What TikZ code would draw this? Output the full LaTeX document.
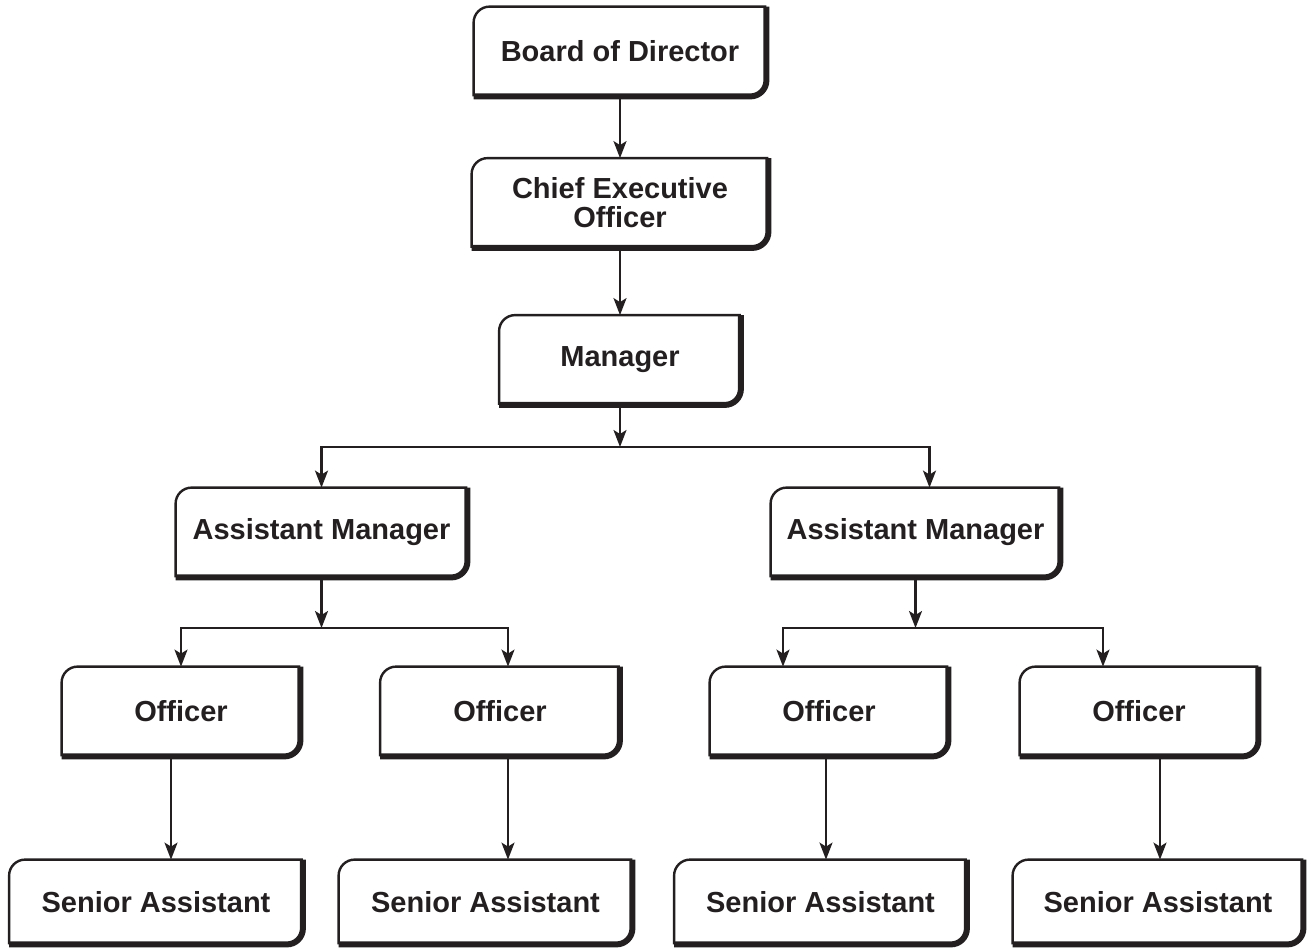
\documentclass[tikz,border=0pt]{standalone}
\usepackage{fontspec}
\setmainfont{Liberation Sans}
\usetikzlibrary{arrows.meta}
\definecolor{ink}{RGB}{35,31,32}

\begin{document}
\begin{tikzpicture}[x=0.5pt, y=-0.5pt,
    post/.style ={minimum width=#1, minimum height=44.5pt, inner sep=0pt, align=center,
      text=ink, font=\bfseries\fontsize{14.5}{14.5}\selectfont},
    frame/.style ={ink, line width=1.2pt},
    shade/.style ={ink, line width=3pt},
    link/.style ={ink, line width=1.1pt, -{Stealth[length=8.5pt, width=6.5pt, inset=2pt]}}]
   \useasboundingbox (0,0) rectangle (1313,949);
   \node[post=146pt] (board) at (620,51.5) {Board of Director};
   \node[post=148pt] (ceo) at (620,203) {Chief Executive\\Officer};
   \node[post=120.5pt] (mgr) at (620,360) {Manager};
   \node[post=145.5pt] (am1) at (321.5,532.5) {Assistant Manager};
   \node[post=144.5pt] (am2) at (915.5,532.5) {Assistant Manager};
   \node[post=119pt] (off1) at (181,711.5) {Officer};
   \node[post=119.5pt] (off2) at (500,711.5) {Officer};
   \node[post=119pt] (off3) at (829,711.5) {Officer};
   \node[post=119pt] (off4) at (1139,711.5) {Officer};
   \node[post=146.5pt, minimum height=42pt] (sa1) at (156,902) {Senior Assistant};
   \node[post=146.5pt, minimum height=42pt] (sa2) at (485.5,902) {Senior Assistant};
   \node[post=146pt, minimum height=42pt] (sa3) at (820.5,902) {Senior Assistant};
   \node[post=145pt, minimum height=42pt] (sa4) at (1158,902) {Senior Assistant};
   % box outlines: thin left/top, heavy right/bottom
   \foreach \n in {board,ceo,mgr,am1,am2,off1,off2,off3,off4,sa1,sa2,sa3,sa4} {
     \draw[frame] (\n.south west) -- ([yshift=-8pt]\n.north west)
       arc[start angle=180, end angle=90, radius=8pt] -- (\n.north east);
     \draw[shade] (\n.north east) -- ([yshift=8pt]\n.south east)
       arc[start angle=0, end angle=-90, radius=8pt] -- (\n.south west);
   }
   \coordinate (split) at (620,447);
   \coordinate (splitL) at (321.5,628);
   \coordinate (splitR) at (915.5,628);
   \draw[link] (board) to (ceo);
   \draw[link] (ceo) to (mgr);
   \draw[link] (mgr) to (split);
   \draw[link] (split) -| (am1.north);
   \draw[link] (split) -| ([xshift=7pt]am2.north);
   \draw[link] (am1) to (splitL);
   \draw[link] (splitL) -| (off1.north);
   \draw[link] (splitL) -| ([xshift=4pt]off2.north);
   \draw[link] (am2) to (splitR);
   \draw[link] (splitR) -| ([xshift=-23pt]off3.north);
   \draw[link] (splitR) -| ([xshift=-18pt]off4.north);
   \draw[link] ([xshift=-5pt]off1.south) to ([xshift=-5pt]off1.south |- sa1.north);
   \draw[link] ([xshift=4pt]off2.south) to ([xshift=4pt]off2.south |- sa2.north);
   \draw[link] ([xshift=-1.5pt]off3.south) to ([xshift=-1.5pt]off3.south |- sa3.north);
   \draw[link] ([xshift=10.5pt]off4.south) to ([xshift=10.5pt]off4.south |- sa4.north);
\end{tikzpicture}
\end{document}
